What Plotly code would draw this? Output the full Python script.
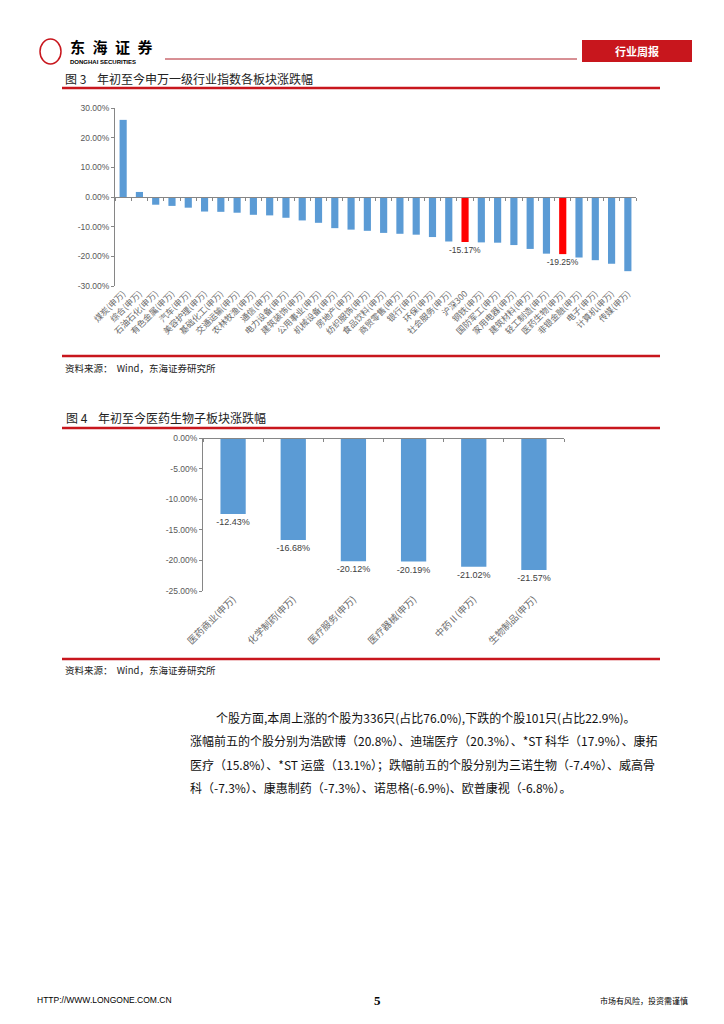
import numpy as np
import plotly.graph_objects as go

# the page body adds an 8px margin, so the figure is drawn 8px in from the top-left corner
OFF = 8
W, H = 724 - OFF, 1024 - OFF


def px(x):
    return (x - OFF) / W


def py(y):
    return 1 - (y - OFF) / H


# ---------------- data ----------------
industries = ["煤炭(申万)", "综合(申万)", "石油石化(申万)", "有色金属(申万)", "汽车(申万)",
              "美容护理(申万)", "基础化工(申万)", "交通运输(申万)", "农林牧渔(申万)", "通信(申万)",
              "电力设备(申万)", "建筑装饰(申万)", "公用事业(申万)", "机械设备(申万)", "房地产(申万)",
              "纺织服饰(申万)", "食品饮料(申万)", "商贸零售(申万)", "银行(申万)", "环保(申万)",
              "社会服务(申万)", "沪深300", "钢铁(申万)", "国防军工(申万)", "家用电器(申万)",
              "建筑材料(申万)", "轻工制造(申万)", "医药生物(申万)", "非银金融(申万)", "电子(申万)",
              "计算机(申万)", "传媒(申万)"]
industry_values = [26.0, 1.7, -2.6, -3.0, -3.6, -4.9, -5.0, -5.3, -6.0, -6.2,
                   -7.0, -7.9, -8.7, -10.5, -11.0, -11.4, -12.1, -12.4, -12.7, -13.5,
                   -15.0, -15.17, -15.3, -15.4, -16.2, -17.5, -19.1, -19.25, -20.4, -21.3,
                   -22.5, -25.0]
highlighted = ["沪深300", "医药生物(申万)"]
y1_ticks = [30, 20, 10, 0, -10, -20, -30]

sub_sectors = ["医药商业(申万)", "化学制药(申万)", "医疗服务(申万)", "医疗器械(申万)",
               "中药Ⅱ(申万)", "生物制品(申万)"]
sub_values = [-12.43, -16.68, -20.12, -20.19, -21.02, -21.57]
y2_ticks = [0, -5, -10, -15, -20, -25]

paragraph = [
    "个股方面,本周上涨的个股为336只(占比76.0%),下跌的个股101只(占比22.9%)。",
    "涨幅前五的个股分别为浩欧博（20.8%）、迪瑞医疗（20.3%）、*ST 科华（17.9%）、康拓",
    "医疗（15.8%）、*ST 运盛（13.1%）；跌幅前五的个股分别为三诺生物（-7.4%）、威高骨",
    "科（-7.3%）、康惠制药（-7.3%）、诺思格(-6.9%)、欧普康视（-6.8%）。",
]

# ---------------- style ----------------
BLUE = "#5B9BD5"
HL = "#FF0000"
GRID = "#868686"
TXT = "#595959"
LBL = "#6A6A6A"
RED = "#C8161D"
CJK = "Noto Sans CJK SC"
LAT = "Liberation Sans"

fig = go.Figure()

# chart 1
n1 = len(industries)
colors1 = [HL if c in highlighted else BLUE for c in industries]
text1 = [f"{v:.2f}%" if c in highlighted else "" for c, v in zip(industries, industry_values)]
fig.add_trace(go.Bar(x=industries, y=industry_values, marker=dict(color=colors1, line=dict(width=0)),
                     width=0.44, text=text1, textposition="outside", cliponaxis=False,
                     constraintext="none",
                     textfont=dict(family=LAT, size=8.5, color="#404040"),
                     xaxis="x", yaxis="y", hoverinfo="skip"))
fig.add_trace(go.Scatter(x=list(range(n1)), y=industry_values, mode="markers",
                         marker=dict(opacity=0), xaxis="x3", yaxis="y", hoverinfo="skip"))

# chart 2
n2 = len(sub_sectors)
fig.add_trace(go.Bar(x=sub_sectors, y=sub_values, marker=dict(color=BLUE, line=dict(width=0)),
                     width=0.42, texttemplate="%{y:.2f}%", textposition="outside", cliponaxis=False,
                     constraintext="none",
                     textfont=dict(family=LAT, size=9, color="#404040"),
                     xaxis="x2", yaxis="y2", hoverinfo="skip"))
fig.add_trace(go.Scatter(x=list(range(n2)), y=sub_values, mode="markers",
                         marker=dict(opacity=0), xaxis="x4", yaxis="y2", hoverinfo="skip"))

y1_dom = [py(286), py(108)]
y1_rng = [-30, 30]
zero1 = y1_dom[0] + (0 - y1_rng[0]) / (y1_rng[1] - y1_rng[0]) * (y1_dom[1] - y1_dom[0])
y2_dom = [py(591), py(438)]

common_y = dict(showgrid=False, zeroline=False, showline=True, linecolor=GRID, linewidth=1,
                ticks="outside", ticklen=3, tickcolor=GRID,
                tickfont=dict(family=LAT, size=8.5, color=TXT), automargin=False)
cat_x = dict(type="category", showgrid=False, zeroline=False, showline=False, ticks="",
             tickangle=-45, tickmode="linear", tick0=0, dtick=1,
             tickfont=dict(family=CJK, size=8.6, color=LBL), automargin=False)
bound_x = dict(type="linear", showgrid=False, zeroline=False, showline=True, linecolor=GRID,
               linewidth=1, ticks="outside", ticklen=3, tickcolor=GRID, showticklabels=False,
               automargin=False)

fig.update_layout(
    width=W, height=H, margin=dict(l=0, r=0, t=0, b=0),
    paper_bgcolor="white", plot_bgcolor="white", showlegend=False,
    xaxis=dict(domain=[px(115), px(636)], anchor="y", **cat_x),
    yaxis=dict(domain=y1_dom, range=y1_rng, tickmode="array", tickvals=y1_ticks,
               ticktext=[f"{v:.2f}%" for v in y1_ticks], anchor="x", **common_y),
    xaxis3=dict(overlaying="x", anchor="free", position=zero1, range=[-0.5, n1 - 0.5],
                tickmode="array", tickvals=list(np.arange(n1 + 1) - 0.5), **bound_x),
    xaxis2=dict(domain=[px(203), px(564)], anchor="y2", **cat_x),
    yaxis2=dict(domain=y2_dom, range=[-25, 0], tickmode="array", tickvals=y2_ticks,
                ticktext=[f"{v:.2f}%" for v in y2_ticks], anchor="x2", **common_y),
    xaxis4=dict(overlaying="x2", anchor="free", position=y2_dom[1], range=[-0.5, n2 - 0.5],
                tickmode="array", tickvals=list(np.arange(n2 + 1) - 0.5), **bound_x),
)
fig.update_layout(xaxis2_tickfont_size=9.5)

shapes = []
ann = []


def hline(x0, x1, y, color=RED, width=2.5):
    shapes.append(dict(type="line", xref="paper", yref="paper", x0=px(x0), x1=px(x1),
                       y0=py(y), y1=py(y), line=dict(color=color, width=width)))


def text(x, y, s, size, color="#000", family=CJK, xanchor="left", bold=False):
    if bold:
        s = f"<b>{s}</b>"
    ann.append(dict(x=px(x), y=py(y), xref="paper", yref="paper", text=s, showarrow=False,
                    xanchor=xanchor, yanchor="middle", font=dict(family=family, size=size, color=color)))


# header
shapes.append(dict(type="circle", xref="paper", yref="paper", x0=px(40), x1=px(61), y0=py(64), y1=py(39),
                   line=dict(color=RED, width=1.5)))
shapes.append(dict(type="rect", xref="paper", yref="paper", x0=px(582), x1=px(692), y0=py(62), y1=py(40),
                   fillcolor=RED, line=dict(width=0)))
text(68, 46.5, "东\u2002海\u2002证\u2002券", 15, "#000", CJK, bold=True)
text(68, 61.5, "DONGHAI SECURITIES", 6, "#000", LAT, bold=True)
text(637, 51, "行业周报", 11, "white", CJK, xanchor="center", bold=True)
hline(165, 577, 59, "#B0202A", 1)

# figure 3
text(63, 79, "图 3    年初至今申万一级行业指数各板块涨跌幅", 12, "#222")
hline(62, 660, 88)
hline(62, 660, 356)
text(63, 368, "资料来源：  Wind，东海证券研究所", 9.5, "#222")

# figure 4
text(64, 418, "图 4    年初至今医药生物子板块涨跌幅", 12, "#222")
hline(62, 660, 428)
hline(62, 660, 659)
text(63, 670, "资料来源：  Wind，东海证券研究所", 9.5, "#222")

# paragraph
line_y = [717, 740, 764, 787]
line_x = [214, 188, 188, 188]
for s, x, y in zip(paragraph, line_x, line_y):
    text(x, y, s, 12, "#111")

# footer
text(35, 1000, "HTTP://WWW.LONGONE.COM.CN", 8.5, "#000", LAT)
text(377, 1000, "5", 13, "#000", "Liberation Serif", xanchor="center", bold=True)
text(690, 1000, "市场有风险，投资需谨慎", 8, "#000", CJK, xanchor="right")

fig.update_layout(shapes=shapes, annotations=ann)
fig.write_html("out.html")
